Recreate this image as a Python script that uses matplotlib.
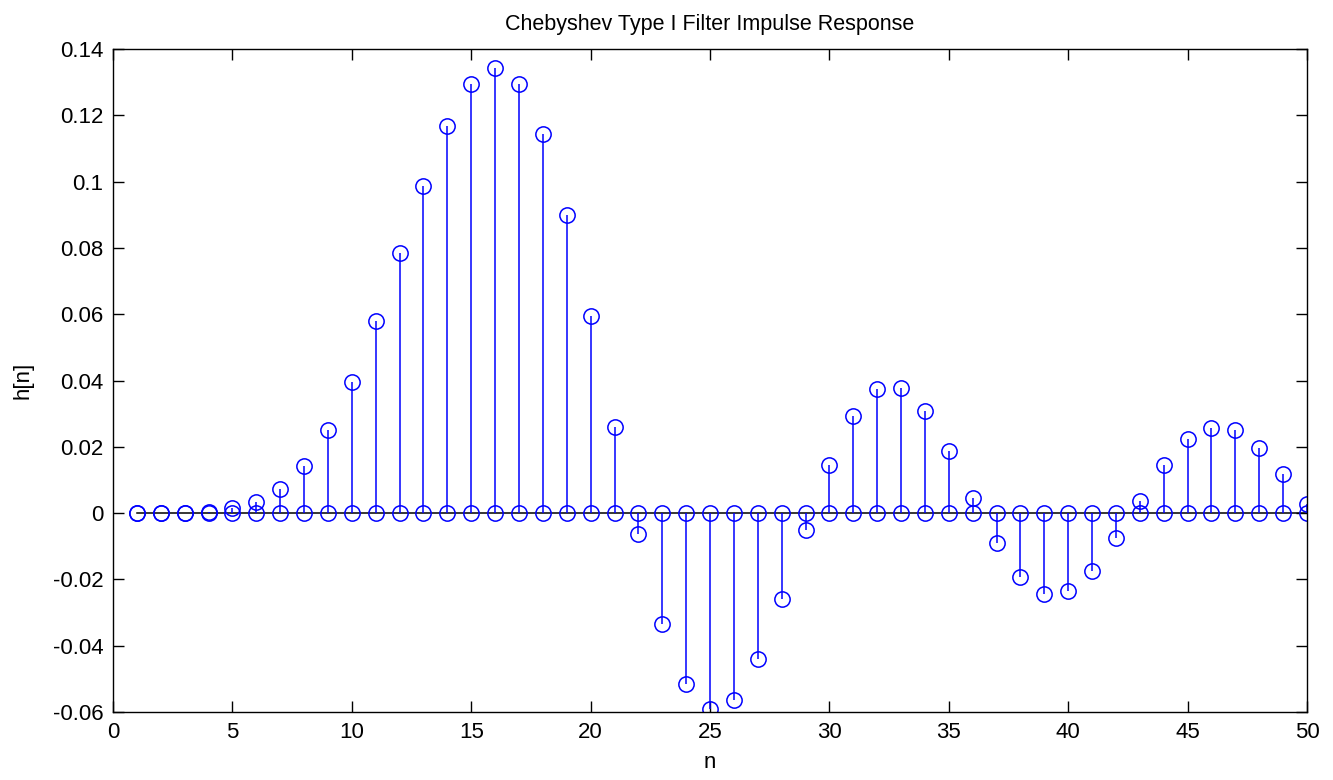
import numpy as np
import matplotlib.pyplot as plt

plt.rcParams['font.family'] = ['Liberation Sans', 'DejaVu Sans']

# impulse response samples, n = 1..50
n = np.arange(1, 51)
h = [0.0, 0.0, 0.0, 0.0002, 0.0015, 0.0033, 0.0072, 0.0142, 0.0250, 0.0395,
     0.0580, 0.0784, 0.0986, 0.1167, 0.1294, 0.1342, 0.1294, 0.1143, 0.0899, 0.0594,
     0.0259, -0.0063, -0.0335, -0.0516, -0.0591, -0.0564, -0.0440, -0.0260, -0.0051, 0.0145,
     0.0293, 0.0374, 0.0377, 0.0308, 0.0187, 0.0045, -0.0090, -0.0193, -0.0244, -0.0235,
     -0.0175, -0.0075, 0.0036, 0.0145, 0.0223, 0.0256, 0.0250, 0.0196, 0.0118, 0.0027]
zero = [0.0] * len(n)

fig = plt.figure(figsize=(13.33, 7.8), dpi=100, facecolor='white')
ax = fig.add_axes([0.0848, 0.0872, 0.8957, 0.8498])

# stems with circle markers at the value and at zero
ax.vlines(n, 0, h, colors='blue', lw=1.1)
ax.plot(n, h, 'o', ms=11, mfc='none', mec='blue', mew=1.1)
ax.plot(n, zero, 'o', ms=11, mfc='none', mec='blue', mew=1.1)
ax.plot([1, 50], [0, 0], color='black', lw=1.1, zorder=1)

ax.set_xlim(0, 50)
ax.set_ylim(-0.06, 0.14)
ax.set_xticks(np.arange(0, 51, 5))
ax.set_yticks(np.arange(-0.06, 0.141, 0.02))
ax.set_yticklabels(['-0.06', '-0.04', '-0.02', '0', '0.02', '0.04', '0.06',
                    '0.08', '0.1', '0.12', '0.14'])
ax.tick_params(direction='in', top=True, right=True, labelsize=16, length=8, width=1, pad=7)
for s in ax.spines.values():
    s.set_linewidth(1)

ax.set_title('Chebyshev Type I Filter Impulse Response', fontsize=15.5, pad=14)
ax.set_xlabel('n', fontsize=16, labelpad=7)
ax.set_ylabel('h[n]', fontsize=16, labelpad=14)

fig.savefig('out.png', dpi=100, facecolor='white')
